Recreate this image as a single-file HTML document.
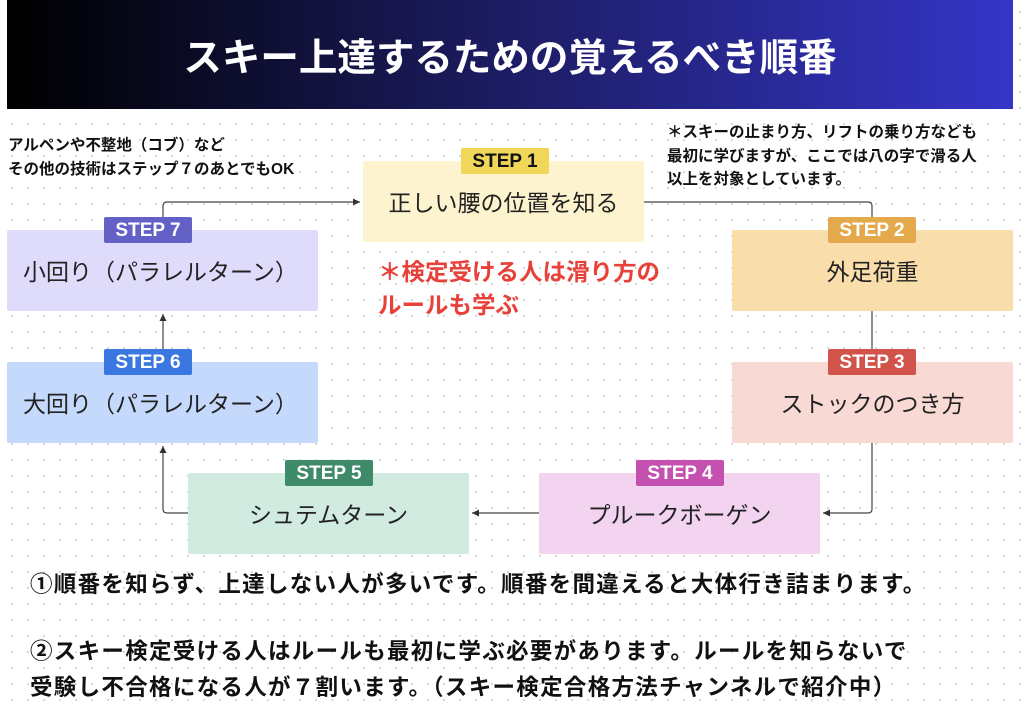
<!DOCTYPE html>
<html><head><meta charset="utf-8"><style>
*{margin:0;padding:0;box-sizing:border-box}
body{width:1024px;height:711px;overflow:hidden;position:relative;background:#fff;font-family:"Liberation Sans","Noto Sans CJK JP",sans-serif;
background-image:radial-gradient(circle,#d6d6d6 1px,transparent 1.3px);background-size:16px 16px;background-position:4px 4px}
.hdr{position:absolute;left:7px;top:0;width:1006px;height:109px;background:linear-gradient(90deg,#000 0%,#1a1a5a 45%,#3535c8 100%);color:#fff;font-weight:bold;font-size:38.5px;text-align:center;line-height:118px}
.box{position:absolute;width:281px;height:81px;font-size:23px;color:#222;text-align:center;line-height:84px;border-radius:2px}
.b{position:absolute;width:88px;height:26px;font-size:19px;font-weight:bold;color:#fff;text-align:center;line-height:27px;border-radius:2px}
.note{position:absolute;font-size:15.5px;font-weight:bold;line-height:24px;color:#111}
.red{position:absolute;left:378px;top:256px;font-size:23.5px;font-weight:bold;color:#e8413a;line-height:33px}
.bot{position:absolute;left:30px;font-size:22.5px;font-weight:bold;color:#111;line-height:36px;letter-spacing:1.3px;white-space:nowrap}
</style></head><body>
<div class="hdr">スキー上達するための覚えるべき順番</div>
<div class="note" style="left:8px;top:134px">アルペンや不整地（コブ）など<br>その他の技術はステップ７のあとでもOK</div>
<div class="note" style="left:667px;top:121px;line-height:23.5px">＊スキーの止まり方、リフトの乗り方なども<br>最初に学びますが、ここでは八の字で滑る人<br>以上を対象としています。</div>
<svg style="position:absolute;left:0;top:0" width="1024" height="711">
<defs><marker id="a" markerWidth="8" markerHeight="8" refX="6" refY="3" orient="auto"><path d="M0,0 L6,3 L0,6z" fill="#333"/></marker></defs>
<g fill="none" stroke="#444" stroke-width="1.2">
<path d="M163,217 V206 Q163,202 167,202 H360" marker-end="url(#a)"/>
<path d="M644,202 H868 Q872,202 872,206 V217"/>
<path d="M872,311 V349"/>
<path d="M872,443 V509 Q872,513 868,513 H823" marker-end="url(#a)"/>
<path d="M539,513 H472" marker-end="url(#a)"/>
<path d="M188,513 H167 Q163,513 163,509 V446" marker-end="url(#a)"/>
<path d="M163,349 V314" marker-end="url(#a)"/>
</g></svg>
<div class="box" style="left:363px;top:161px;background:#fdf4cf">正しい腰の位置を知る</div>
<div class="b" style="left:461px;top:148px;background:#f0d75a;color:#111">STEP 1</div>
<div class="box" style="left:732px;top:230px;background:#f9ddab">外足荷重</div>
<div class="b" style="left:828px;top:217px;background:#e3a94b">STEP 2</div>
<div class="box" style="left:732px;top:362px;background:#f9d9d3">ストックのつき方</div>
<div class="b" style="left:828px;top:349px;background:#d1534a">STEP 3</div>
<div class="box" style="left:539px;top:473px;background:#f2d3f0">プルークボーゲン</div>
<div class="b" style="left:636px;top:460px;background:#c450b0">STEP 4</div>
<div class="box" style="left:188px;top:473px;background:#d2ebe0">シュテムターン</div>
<div class="b" style="left:285px;top:460px;background:#3f8a69">STEP 5</div>
<div class="box" style="left:7px;top:362px;width:311px;background:#c4d9fb;text-align:left;padding-left:16px">大回り（パラレルターン）</div>
<div class="b" style="left:104px;top:349px;background:#3a77e0">STEP 6</div>
<div class="box" style="left:7px;top:230px;width:311px;background:#dfdcfb;text-align:left;padding-left:16px">小回り（パラレルターン）</div>
<div class="b" style="left:104px;top:217px;background:#6461c6">STEP 7</div>
<div class="red">＊検定受ける人は滑り方の<br>ルールも学ぶ</div>
<div class="bot" style="top:567px">①順番を知らず、上達しない人が多いです。順番を間違えると大体行き詰まります。</div>
<div class="bot" style="top:634px">②スキー検定受ける人はルールも最初に学ぶ必要があります。ルールを知らないで<br>受験し不合格になる人が７割います。（スキー検定合格方法チャンネルで紹介中）</div>
</body></html>
